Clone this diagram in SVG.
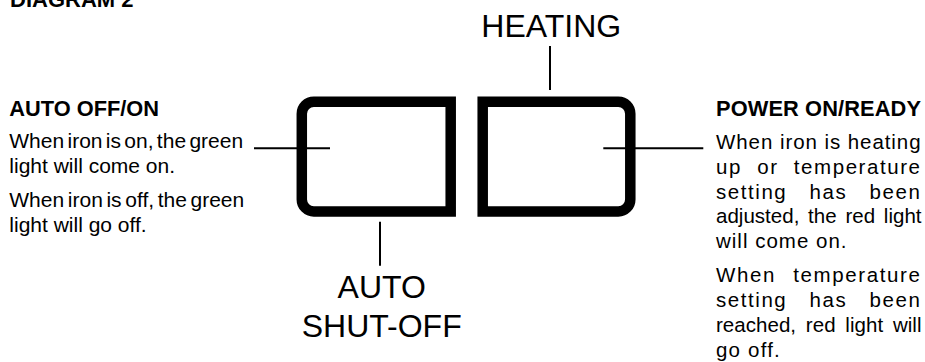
<svg xmlns="http://www.w3.org/2000/svg" width="925" height="362" viewBox="0 0 925 362">
<style>
text{font-family:"Liberation Sans",Arial,sans-serif;fill:#000}
.h{font-weight:bold;font-size:21.8px}
.b{font-size:21px}
.r{font-size:20.5px}
.big{font-size:32px;text-anchor:middle}
.box{fill:none;stroke:#000;stroke-width:10.5;stroke-linejoin:miter}
.ld{stroke:#000;stroke-width:2;fill:none}
</style>
<rect width="925" height="362" fill="#fff"/>
<text class="h" x="10" y="7" style="font-size:22px">DIAGRAM 2</text>
<g id="auto-off-on">
<text class="h" x="9.3" y="116">AUTO OFF/ON</text>
<text class="b" x="9.3" y="148.3" word-spacing="-2.5">When iron is on, the green</text>
<text class="b" x="9.3" y="173.3">light will come on.</text>
<text class="b" x="9.3" y="206.7" word-spacing="-2.2">When iron is off, the green</text>
<text class="b" x="9.3" y="231.7">light will go off.</text>
</g>
<g id="left-light">
<path class="box" d="M450.7 101.7H313.8A12 12 0 0 0 301.8 113.7V199.4A12 12 0 0 0 313.8 211.4H450.7Z"/>
</g>
<g id="right-light">
<path class="box" d="M482.7 101.7H618.3A12 12 0 0 1 630.3 113.7V199.4A12 12 0 0 1 618.3 211.4H482.7Z"/>
</g>
<g id="heating">
<text class="big" x="551.3" y="36.7">HEATING</text>
</g>
<g id="auto-shut-off">
<text class="big" x="381.7" y="298.3">AUTO</text>
<text class="big" x="381.7" y="336.7">SHUT-OFF</text>
</g>
<g id="power-on-ready">
<text class="h" x="716" y="116" textLength="205" lengthAdjust="spacing">POWER ON/READY</text>
<text class="r" x="716" y="149" letter-spacing="0.9" textLength="205.5" lengthAdjust="spacing">When iron is heating</text>
<text class="r" x="716" y="173.8" letter-spacing="1.5" word-spacing="8" textLength="205.5" lengthAdjust="spacing">up or temperature</text>
<text class="r" x="716" y="198.6" letter-spacing="1.6" word-spacing="15" textLength="205.5" lengthAdjust="spacing">setting has been</text>
<text class="r" x="716" y="223.4" word-spacing="3" textLength="205.5" lengthAdjust="spacing">adjusted, the red light</text>
<text class="r" x="716" y="248.2" letter-spacing="1">will come on.</text>
<text class="r" x="716" y="282.1" letter-spacing="1.6" word-spacing="10" textLength="205.5" lengthAdjust="spacing">When temperature</text>
<text class="r" x="716" y="306.9" letter-spacing="1.6" word-spacing="15" textLength="205.5" lengthAdjust="spacing">setting has been</text>
<text class="r" x="716" y="331.7" word-spacing="4" textLength="205.5" lengthAdjust="spacing">reached, red light will</text>
<text class="r" x="716" y="356.5" letter-spacing="1.2">go off.</text>
</g>
<g id="connectors">
<line class="ld" x1="254" y1="148.3" x2="330" y2="148.3"/>
<line class="ld" x1="603.3" y1="148.3" x2="703.3" y2="148.3"/>
<line class="ld" x1="550" y1="46" x2="550" y2="90"/>
<line class="ld" x1="380" y1="221.7" x2="380" y2="265.7"/>
</g>
</svg>
